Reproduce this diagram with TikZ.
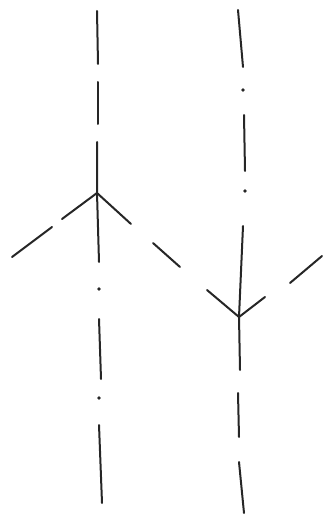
\documentclass[tikz,border=0pt]{standalone}
\usetikzlibrary{positioning}
\begin{document}
\begin{tikzpicture}[
  x=1pt, y=-1pt,
  pen/.style={draw=black!85, line width=2pt, line cap=round},
  pip/.style={circle, fill=black!85, inner sep=0pt, minimum size=3.6pt},
]
\useasboundingbox (0,0) rectangle (328,518);
\coordinate (forkL) at (97,193);
\coordinate (forkR) at (239,317);
% left axis
\draw[pen] (97,11) -- (98,64);
\draw[pen] (98,82) -- (98,124);
\draw[pen] (97,142) -- (forkL) -- (99,262);
\node[pip] (dotL1) at (99,289) {};
\draw[pen] (99,319) -- (101,379);
\node[pip] (dotL2) at (99,398) {};
\draw[pen] (99,425) -- (102,503);
% left fork
\draw[pen] (forkL) -- (62,219);
\draw[pen] (52,227) -- (12,257);
\draw[pen] (forkL) -- (131,224);
\draw[pen] (153,243) -- (180,267);
% right axis
\draw[pen] (238,10) -- (243,67);
\node[pip] (dotR1) at (243,90) {};
\draw[pen] (244,115) -- (245,171);
\node[pip] (dotR2) at (245,191) {};
\draw[pen] (243,226) -- (forkR) -- (240,370);
\draw[pen] (238,393) -- (239,437);
\draw[pen] (239,462) -- (244,513);
% right fork
\draw[pen] (207,290) -- (forkR);
\draw[pen] (forkR) -- (265,297);
\draw[pen] (290,283) -- (322,256);
\end{tikzpicture}
\end{document}
